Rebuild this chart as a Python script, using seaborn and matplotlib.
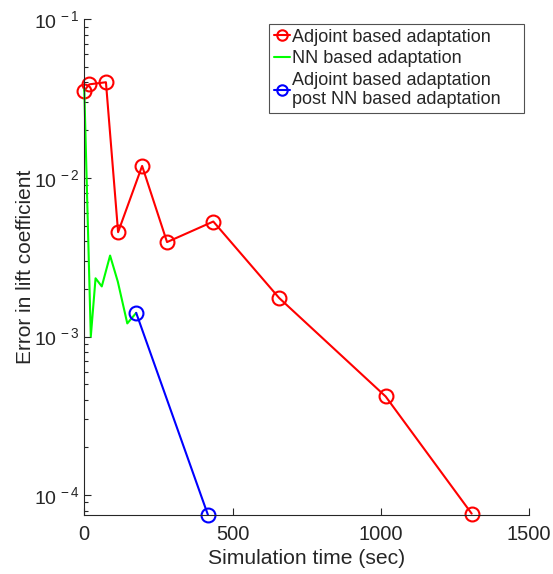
#!/usr/bin/env python3

import matplotlib
matplotlib.use("Agg")
import matplotlib.pyplot as plt
import matplotlib.ticker as mticker
import numpy as np
import pandas as pd
import seaborn as sns

# adjoint based adaptation
adj_time = [0, 17, 73, 114, 195, 279, 435, 657, 1016, 1306]
adj_err = [0.0355, 0.0389, 0.0401, 0.00455, 0.0119, 0.00394, 0.00531, 0.00175, 0.000419, 7.65e-5]

# NN based adaptation
nn_time = [0, 22, 38, 59, 87, 113, 145, 175]
nn_err = [0.0362, 0.00100, 0.00233, 0.00207, 0.00324, 0.00222, 0.00121, 0.00141]

# adjoint based adaptation after NN
post_time = [175, 417]
post_err = [0.00141, 7.5e-5]

sns.set_style("ticks")
plt.rcParams['font.family'] = ['Liberation Sans', 'DejaVu Sans']
plt.rcParams['mathtext.fontset'] = 'custom'
plt.rcParams['mathtext.rm'] = 'Liberation Sans'
plt.rcParams['mathtext.it'] = 'Liberation Sans:italic'
plt.rcParams['mathtext.bf'] = 'Liberation Sans:bold'
plt.rcParams['xtick.direction'] = 'in'
plt.rcParams['ytick.direction'] = 'in'
plt.rcParams['axes.edgecolor'] = '#262626'
plt.rcParams['xtick.color'] = '#262626'
plt.rcParams['ytick.color'] = '#262626'

df_adj = pd.DataFrame({'time': adj_time, 'err': adj_err})
df_nn = pd.DataFrame({'time': nn_time, 'err': nn_err})
df_post = pd.DataFrame({'time': post_time, 'err': post_err})

fig = plt.figure(figsize=(5.53, 5.74), dpi=100)
ax = fig.add_axes([0.1524, 0.1028, 0.8046, 0.8636])

sns.lineplot(data=df_adj, x='time', y='err', ax=ax, color='red', lw=1.5,
             marker='o', markersize=10, markerfacecolor='none',
             markeredgecolor='red', markeredgewidth=1.5, estimator=None,
             sort=False, label='Adjoint based adaptation')
sns.lineplot(data=df_nn, x='time', y='err', ax=ax, color='#00ff00', lw=1.5,
             estimator=None, sort=False, label='NN based adaptation')
sns.lineplot(data=df_post, x='time', y='err', ax=ax, color='blue', lw=1.5,
             marker='o', markersize=10, markerfacecolor='none',
             markeredgecolor='blue', markeredgewidth=1.5, estimator=None,
             sort=False, label='Adjoint based adaptation\npost NN based adaptation')

ax.set_yscale('log')
ax.set_xlim(0, 1500)
ax.set_ylim(7.5e-5, 0.1)
ax.set_xticks([0, 500, 1000, 1500])
ax.set_yticks([1e-4, 1e-3, 1e-2, 1e-1])
ax.yaxis.set_major_formatter(mticker.FuncFormatter(
    lambda v, p: r'$10^{\,%d}$' % int(round(np.log10(v)))))
ax.tick_params(axis='x', which='major', labelsize=14.5, length=5, width=0.8, pad=7)
ax.tick_params(axis='y', which='major', labelsize=14, length=5, width=0.8)
ax.tick_params(axis='y', which='minor', length=3, width=0.8)
sns.despine(ax=ax)
for c in ax.get_children():
    if hasattr(c, 'set_clip_on'):
        c.set_clip_on(False)

ax.set_xlabel('Simulation time (sec)', fontsize=15.2, color='#262626')
ax.set_ylabel('Error in lift coefficient', fontsize=15, color='#262626')
ax.yaxis.set_label_coords(-0.111, 0.5)

leg = ax.legend(loc='upper left', bbox_to_anchor=(0.4157, 0.0, 0.573, 0.9899),
                mode='expand', fontsize=13, frameon=True, fancybox=False,
                edgecolor='#262626', handlelength=0.9, handletextpad=0.1,
                borderpad=0.25, labelspacing=0.25, borderaxespad=0.0,
                markerscale=0.75)
leg.get_frame().set_linewidth(0.8)

plt.savefig('out.png', dpi=100)
plt.close()
